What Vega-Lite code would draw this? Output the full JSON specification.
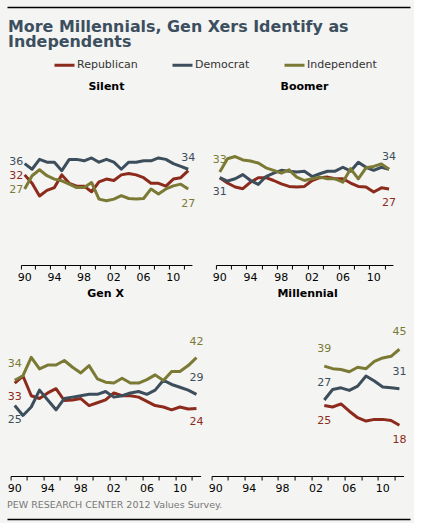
{
  "$schema": "https://vega.github.io/schema/vega-lite/v6.json",
  "background": "#f4f4f2",
  "padding": {"left": 7, "top": 7, "right": 4, "bottom": 4},
  "datasets": {
    "series": [
      {"gen": "Silent", "year": 1990, "Republican": 32, "Democrat": 36, "Independent": 27},
      {"gen": "Silent", "year": 1991, "Republican": 29, "Democrat": 34, "Independent": 31.7},
      {"gen": "Silent", "year": 1992, "Republican": 24.5, "Democrat": 37.5, "Independent": 33.8},
      {"gen": "Silent", "year": 1993, "Republican": 26.5, "Democrat": 36.5, "Independent": 31.7},
      {"gen": "Silent", "year": 1994, "Republican": 27.5, "Democrat": 36.5, "Independent": 30.5},
      {"gen": "Silent", "year": 1995, "Republican": 32, "Democrat": 33.5, "Independent": 29.9},
      {"gen": "Silent", "year": 1996, "Republican": 29, "Democrat": 37.5, "Independent": 28.7},
      {"gen": "Silent", "year": 1997, "Republican": 28, "Democrat": 37.5, "Independent": 27.5},
      {"gen": "Silent", "year": 1998, "Republican": 28, "Democrat": 37, "Independent": 27.5},
      {"gen": "Silent", "year": 1999, "Republican": 26, "Democrat": 38, "Independent": 29.3},
      {"gen": "Silent", "year": 2000, "Republican": 29.5, "Democrat": 36.5, "Independent": 23.4},
      {"gen": "Silent", "year": 2001, "Republican": 30.5, "Democrat": 37.5, "Independent": 22.8},
      {"gen": "Silent", "year": 2002, "Republican": 30, "Democrat": 36.5, "Independent": 23.4},
      {"gen": "Silent", "year": 2003, "Republican": 32, "Democrat": 34, "Independent": 24.6},
      {"gen": "Silent", "year": 2004, "Republican": 32.5, "Democrat": 36.5, "Independent": 23.6},
      {"gen": "Silent", "year": 2005, "Republican": 32, "Democrat": 36.5, "Independent": 23.4},
      {"gen": "Silent", "year": 2006, "Republican": 31, "Democrat": 37, "Independent": 23.6},
      {"gen": "Silent", "year": 2007, "Republican": 29, "Democrat": 37, "Independent": 27},
      {"gen": "Silent", "year": 2008, "Republican": 29, "Democrat": 38, "Independent": 25.2},
      {"gen": "Silent", "year": 2009, "Republican": 28, "Democrat": 37.5, "Independent": 27},
      {"gen": "Silent", "year": 2010, "Republican": 30.5, "Democrat": 36, "Independent": 28.1},
      {"gen": "Silent", "year": 2011, "Republican": 31, "Democrat": 35, "Independent": 28.7},
      {"gen": "Silent", "year": 2012, "Republican": 33.5, "Democrat": 34, "Independent": 27},
      {"gen": "Boomer", "year": 1990, "Republican": 31, "Democrat": 31, "Independent": 33},
      {"gen": "Boomer", "year": 1991, "Republican": 29.1, "Democrat": 29.8, "Independent": 37.7},
      {"gen": "Boomer", "year": 1992, "Republican": 27.7, "Democrat": 30.6, "Independent": 38.5},
      {"gen": "Boomer", "year": 1993, "Republican": 27.1, "Democrat": 32.1, "Independent": 37.3},
      {"gen": "Boomer", "year": 1994, "Republican": 29.4, "Democrat": 30, "Independent": 36.9},
      {"gen": "Boomer", "year": 1995, "Republican": 31, "Democrat": 28.6, "Independent": 36.2},
      {"gen": "Boomer", "year": 1996, "Republican": 31, "Democrat": 31.4, "Independent": 34.5},
      {"gen": "Boomer", "year": 1997, "Republican": 30, "Democrat": 32.6, "Independent": 33.6},
      {"gen": "Boomer", "year": 1998, "Republican": 28.8, "Democrat": 33.6, "Independent": 32.6},
      {"gen": "Boomer", "year": 1999, "Republican": 27.9, "Democrat": 33.3, "Independent": 33.8},
      {"gen": "Boomer", "year": 2000, "Republican": 27.7, "Democrat": 33, "Independent": 31.2},
      {"gen": "Boomer", "year": 2001, "Republican": 27.9, "Democrat": 33.3, "Independent": 30},
      {"gen": "Boomer", "year": 2002, "Republican": 30, "Democrat": 31.4, "Independent": 30.6},
      {"gen": "Boomer", "year": 2003, "Republican": 31, "Democrat": 32.4, "Independent": 31.2},
      {"gen": "Boomer", "year": 2004, "Republican": 31.2, "Democrat": 33.3, "Independent": 30.6},
      {"gen": "Boomer", "year": 2005, "Republican": 30.6, "Democrat": 33.3, "Independent": 30.6},
      {"gen": "Boomer", "year": 2006, "Republican": 30.6, "Democrat": 34.7, "Independent": 29.4},
      {"gen": "Boomer", "year": 2007, "Republican": 29.1, "Democrat": 33.3, "Independent": 34.2},
      {"gen": "Boomer", "year": 2008, "Republican": 27.9, "Democrat": 36.5, "Independent": 30.6},
      {"gen": "Boomer", "year": 2009, "Republican": 27.7, "Democrat": 34.7, "Independent": 34.5},
      {"gen": "Boomer", "year": 2010, "Republican": 25.9, "Democrat": 33.6, "Independent": 35},
      {"gen": "Boomer", "year": 2011, "Republican": 27.4, "Democrat": 34.7, "Independent": 35.9},
      {"gen": "Boomer", "year": 2012, "Republican": 27, "Democrat": 34, "Independent": 34},
      {"gen": "Gen X", "year": 1990, "Republican": 33, "Democrat": 25, "Independent": 34},
      {"gen": "Gen X", "year": 1991, "Republican": 35.5, "Democrat": 21.5, "Independent": 35.6},
      {"gen": "Gen X", "year": 1992, "Republican": 28.5, "Democrat": 24.5, "Independent": 42.1},
      {"gen": "Gen X", "year": 1993, "Republican": 27.5, "Democrat": 30.5, "Independent": 38},
      {"gen": "Gen X", "year": 1994, "Republican": 29.5, "Democrat": 27, "Independent": 39.4},
      {"gen": "Gen X", "year": 1995, "Republican": 31, "Democrat": 23.5, "Independent": 39.4},
      {"gen": "Gen X", "year": 1996, "Republican": 26.8, "Democrat": 27.5, "Independent": 41},
      {"gen": "Gen X", "year": 1997, "Republican": 27, "Democrat": 28, "Independent": 38.6},
      {"gen": "Gen X", "year": 1998, "Republican": 27.5, "Democrat": 28.5, "Independent": 36.6},
      {"gen": "Gen X", "year": 1999, "Republican": 25, "Democrat": 29, "Independent": 39.2},
      {"gen": "Gen X", "year": 2000, "Republican": 26, "Democrat": 29, "Independent": 34.5},
      {"gen": "Gen X", "year": 2001, "Republican": 27, "Democrat": 30, "Independent": 33.3},
      {"gen": "Gen X", "year": 2002, "Republican": 29.5, "Democrat": 28, "Independent": 33},
      {"gen": "Gen X", "year": 2003, "Republican": 28.5, "Democrat": 28.5, "Independent": 34.7},
      {"gen": "Gen X", "year": 2004, "Republican": 28.5, "Democrat": 29.5, "Independent": 33},
      {"gen": "Gen X", "year": 2005, "Republican": 28, "Democrat": 30, "Independent": 33},
      {"gen": "Gen X", "year": 2006, "Republican": 26.5, "Democrat": 29, "Independent": 34.2},
      {"gen": "Gen X", "year": 2007, "Republican": 25, "Democrat": 30.5, "Independent": 35.9},
      {"gen": "Gen X", "year": 2008, "Republican": 24.5, "Democrat": 34, "Independent": 33.9},
      {"gen": "Gen X", "year": 2009, "Republican": 23.5, "Democrat": 32.5, "Independent": 37.1},
      {"gen": "Gen X", "year": 2010, "Republican": 24.5, "Democrat": 31.5, "Independent": 37.1},
      {"gen": "Gen X", "year": 2011, "Republican": 23.8, "Democrat": 30.5, "Independent": 39.2},
      {"gen": "Gen X", "year": 2012, "Republican": 24, "Democrat": 29, "Independent": 42},
      {"gen": "Millennial", "year": 2003, "Republican": 25, "Democrat": 27, "Independent": 39},
      {"gen": "Millennial", "year": 2004, "Republican": 24.5, "Democrat": 30.7, "Independent": 38.1},
      {"gen": "Millennial", "year": 2005, "Republican": 25.6, "Democrat": 31.3, "Independent": 37.8},
      {"gen": "Millennial", "year": 2006, "Republican": 23, "Democrat": 30.4, "Independent": 37},
      {"gen": "Millennial", "year": 2007, "Republican": 20.7, "Democrat": 31.9, "Independent": 38.6},
      {"gen": "Millennial", "year": 2008, "Republican": 19.5, "Democrat": 35.5, "Independent": 38.1},
      {"gen": "Millennial", "year": 2009, "Republican": 20.1, "Democrat": 33.7, "Independent": 40.7},
      {"gen": "Millennial", "year": 2010, "Republican": 20.1, "Democrat": 31.6, "Independent": 41.9},
      {"gen": "Millennial", "year": 2011, "Republican": 19.7, "Democrat": 31.3, "Independent": 42.5},
      {"gen": "Millennial", "year": 2012, "Republican": 18, "Democrat": 31, "Independent": 45}
    ],
    "labels": [
      {"gen": "Silent", "party": "Democrat", "year": 1990, "pct": 36},
      {"gen": "Silent", "party": "Republican", "year": 1990, "pct": 32},
      {"gen": "Silent", "party": "Independent", "year": 1990, "pct": 27},
      {"gen": "Silent", "party": "Democrat", "year": 2012, "pct": 34},
      {"gen": "Silent", "party": "Independent", "year": 2012, "pct": 27},
      {"gen": "Boomer", "party": "Independent", "year": 1990, "pct": 33},
      {"gen": "Boomer", "party": "Democrat", "year": 1990, "pct": 31},
      {"gen": "Boomer", "party": "Democrat", "year": 2012, "pct": 34},
      {"gen": "Boomer", "party": "Republican", "year": 2012, "pct": 27},
      {"gen": "Gen X", "party": "Independent", "year": 1990, "pct": 34},
      {"gen": "Gen X", "party": "Republican", "year": 1990, "pct": 33},
      {"gen": "Gen X", "party": "Democrat", "year": 1990, "pct": 25},
      {"gen": "Gen X", "party": "Independent", "year": 2012, "pct": 42},
      {"gen": "Gen X", "party": "Democrat", "year": 2012, "pct": 29},
      {"gen": "Gen X", "party": "Republican", "year": 2012, "pct": 24},
      {"gen": "Millennial", "party": "Independent", "year": 2003, "pct": 39},
      {"gen": "Millennial", "party": "Democrat", "year": 2003, "pct": 27},
      {"gen": "Millennial", "party": "Republican", "year": 2003, "pct": 25},
      {"gen": "Millennial", "party": "Independent", "year": 2012, "pct": 45},
      {"gen": "Millennial", "party": "Democrat", "year": 2012, "pct": 31},
      {"gen": "Millennial", "party": "Republican", "year": 2012, "pct": 18}
    ]
  },
  "vconcat": [
    {
      "data": {"values": []},
      "mark": "point",
      "width": 403,
      "height": 6,
      "encoding": {
        "x": {"field": "r", "type": "quantitative", "scale": {"domain": [0, 1]},
          "axis": {"orient": "top", "ticks": false, "labels": false, "domainWidth": 1.3, "domainColor": "#000"}}
      }
    },
    {
      "data": {"values": []},
      "mark": "line",
      "width": 403,
      "height": 20.5,
      "encoding": {
        "color": {"field": "party", "type": "nominal",
          "scale": {"domain": ["Republican", "Democrat", "Independent"], "range": ["#8c2b1c", "#3c4e5c", "#7b7a34"]},
          "legend": {"orient": "none", "legendX": 46, "legendY": 0.5, "direction": "horizontal", "title": null,
            "symbolType": "stroke", "symbolSize": 400, "symbolStrokeWidth": 3, "labelOffset": 1, "columnPadding": 28}}
      },
      "title": {
        "text": ["More Millennials, Gen Xers Identify as", "Independents"],
        "orient": "top",
        "anchor": "start",
        "frame": "group",
        "offset": 3,
        "dx": 1,
        "font": "DejaVu Sans",
        "fontSize": 15.9,
        "fontWeight": "bold",
        "lineHeight": 15,
        "color": "#3c4f5f"
      }
    },
    {
      "hconcat": [
        {
          "width": 171,
          "height": 169,
          "title": {"text": "Silent", "offset": 4.5},
          "encoding": {
            "x": {"field": "year", "type": "ordinal", "bandPosition": 0.5,
              "scale": {"type": "band", "domain": [1990, 1991, 1992, 1993, 1994, 1995, 1996, 1997, 1998, 1999, 2000, 2001, 2002, 2003, 2004, 2005, 2006, 2007, 2008, 2009, 2010, 2011, 2012], "paddingInner": 0, "paddingOuter": 0},
              "axis": {"values": [1990, 1992, 1994, 1996, 1998, 2000, 2002, 2004, 2006, 2008, 2010, 2012], "bandPosition": 0, "labelExpr": "datum.value % 4 == 2 ? slice(toString(datum.value), 2) : ''"}},
            "y": {"field": "pct", "type": "quantitative", "scale": {"domain": [0, 60], "nice": false}, "axis": null},
            "color": {"field": "party", "type": "nominal",
              "scale": {"domain": ["Republican", "Democrat", "Independent"], "range": ["#8c2b1c", "#3c4e5c", "#7b7a34"]},
              "legend": null}
          },
          "layer": [
            {"data": {"name": "series"}, "transform": [{"filter": "datum.gen == 'Silent'"}, {"fold": ["Republican", "Democrat", "Independent"], "as": ["party", "pct"]}],
              "mark": {"type": "line", "strokeWidth": 3, "strokeJoin": "round"}},
            {"data": {"name": "labels"}, "transform": [{"filter": "datum.gen == 'Silent' && datum.year == 1990 && datum.party == 'Democrat'"}],
              "mark": {"type": "text", "align": "right", "dx": -1.5, "dy": -1.5}, "encoding": {"text": {"field": "pct"}}},
            {"data": {"name": "labels"}, "transform": [{"filter": "datum.gen == 'Silent' && datum.year == 1990 && datum.party != 'Democrat'"}],
              "mark": {"type": "text", "align": "right", "dx": -1.5, "dy": 1}, "encoding": {"text": {"field": "pct"}}},
            {"data": {"name": "labels"}, "transform": [{"filter": "datum.gen == 'Silent' && datum.year == 2012 && datum.party == 'Democrat'"}],
              "mark": {"type": "text", "dy": -11}, "encoding": {"text": {"field": "pct"}}},
            {"data": {"name": "labels"}, "transform": [{"filter": "datum.gen == 'Silent' && datum.year == 2012 && datum.party == 'Independent'"}],
              "mark": {"type": "text", "dy": 15}, "encoding": {"text": {"field": "pct"}}}
          ]
        },
        {
          "width": 177,
          "height": 169,
          "title": {"text": "Boomer", "offset": 4.5},
          "encoding": {
            "x": {"field": "year", "type": "ordinal", "bandPosition": 0.5,
              "scale": {"type": "band", "domain": [1990, 1991, 1992, 1993, 1994, 1995, 1996, 1997, 1998, 1999, 2000, 2001, 2002, 2003, 2004, 2005, 2006, 2007, 2008, 2009, 2010, 2011, 2012], "paddingInner": 0, "paddingOuter": 0},
              "axis": {"values": [1990, 1992, 1994, 1996, 1998, 2000, 2002, 2004, 2006, 2008, 2010, 2012], "bandPosition": 0, "labelExpr": "datum.value % 4 == 2 ? slice(toString(datum.value), 2) : ''"}},
            "y": {"field": "pct", "type": "quantitative", "scale": {"domain": [0, 60], "nice": false}, "axis": null},
            "color": {"field": "party", "type": "nominal",
              "scale": {"domain": ["Republican", "Democrat", "Independent"], "range": ["#8c2b1c", "#3c4e5c", "#7b7a34"]},
              "legend": null}
          },
          "layer": [
            {"data": {"name": "series"}, "transform": [{"filter": "datum.gen == 'Boomer'"}, {"fold": ["Republican", "Democrat", "Independent"], "as": ["party", "pct"]}],
              "mark": {"type": "line", "strokeWidth": 3, "strokeJoin": "round"}},
            {"data": {"name": "labels"}, "transform": [{"filter": "datum.gen == 'Boomer' && (datum.party == 'Independent' || datum.year == 2012 && datum.party == 'Democrat')"}],
              "mark": {"type": "text", "dy": -12}, "encoding": {"text": {"field": "pct"}}},
            {"data": {"name": "labels"}, "transform": [{"filter": "datum.gen == 'Boomer' && (datum.party == 'Republican' || datum.year == 1990 && datum.party == 'Democrat')"}],
              "mark": {"type": "text", "dy": 14}, "encoding": {"text": {"field": "pct"}}}
          ]
        }
      ],
      "spacing": 24,
      "bounds": "flush",
      "resolve": {"scale": {"x": "independent", "y": "independent"}}
    },
    {
      "hconcat": [
        {
          "width": 190,
          "height": 169,
          "title": {"text": "Gen X", "offset": 8},
          "encoding": {
            "x": {"field": "year", "type": "ordinal", "bandPosition": 0.5,
              "scale": {"type": "band", "domain": [1990, 1991, 1992, 1993, 1994, 1995, 1996, 1997, 1998, 1999, 2000, 2001, 2002, 2003, 2004, 2005, 2006, 2007, 2008, 2009, 2010, 2011, 2012], "paddingInner": 0, "paddingOuter": 0},
              "axis": {"values": [1990, 1992, 1994, 1996, 1998, 2000, 2002, 2004, 2006, 2008, 2010, 2012], "bandPosition": 0, "labelExpr": "datum.value % 4 == 2 ? slice(toString(datum.value), 2) : ''"}},
            "y": {"field": "pct", "type": "quantitative", "scale": {"domain": [0, 60], "nice": false}, "axis": null},
            "color": {"field": "party", "type": "nominal",
              "scale": {"domain": ["Republican", "Democrat", "Independent"], "range": ["#8c2b1c", "#3c4e5c", "#7b7a34"]},
              "legend": null}
          },
          "layer": [
            {"data": {"name": "series"}, "transform": [{"filter": "datum.gen == 'Gen X'"}, {"fold": ["Republican", "Democrat", "Independent"], "as": ["party", "pct"]}],
              "mark": {"type": "line", "strokeWidth": 3, "strokeJoin": "round"}},
            {"data": {"name": "labels"}, "transform": [{"filter": "datum.gen == 'Gen X' && (datum.party == 'Independent' || datum.year == 2012 && datum.party == 'Democrat')"}],
              "mark": {"type": "text", "dy": -16}, "encoding": {"text": {"field": "pct"}}},
            {"data": {"name": "labels"}, "transform": [{"filter": "datum.gen == 'Gen X' && (datum.party == 'Republican' || datum.year == 1990 && datum.party == 'Democrat')"}],
              "mark": {"type": "text", "dy": 14}, "encoding": {"text": {"field": "pct"}}}
          ]
        },
        {
          "width": 192,
          "height": 169,
          "title": {"text": "Millennial", "offset": 8},
          "encoding": {
            "x": {"field": "year", "type": "ordinal", "bandPosition": 0.5,
              "scale": {"type": "band", "domain": [1990, 1991, 1992, 1993, 1994, 1995, 1996, 1997, 1998, 1999, 2000, 2001, 2002, 2003, 2004, 2005, 2006, 2007, 2008, 2009, 2010, 2011, 2012], "paddingInner": 0, "paddingOuter": 0},
              "axis": {"values": [1990, 1992, 1994, 1996, 1998, 2000, 2002, 2004, 2006, 2008, 2010, 2012], "bandPosition": 0, "labelExpr": "datum.value % 4 == 2 ? slice(toString(datum.value), 2) : ''"}},
            "y": {"field": "pct", "type": "quantitative", "scale": {"domain": [0, 60], "nice": false}, "axis": null},
            "color": {"field": "party", "type": "nominal",
              "scale": {"domain": ["Republican", "Democrat", "Independent"], "range": ["#8c2b1c", "#3c4e5c", "#7b7a34"]},
              "legend": null}
          },
          "layer": [
            {"data": {"name": "series"}, "transform": [{"filter": "datum.gen == 'Millennial'"}, {"fold": ["Republican", "Democrat", "Independent"], "as": ["party", "pct"]}],
              "mark": {"type": "line", "strokeWidth": 3, "strokeJoin": "round"}},
            {"data": {"name": "labels"}, "transform": [{"filter": "datum.gen == 'Millennial' && datum.party != 'Republican'"}],
              "mark": {"type": "text", "dy": -17}, "encoding": {"text": {"field": "pct"}}},
            {"data": {"name": "labels"}, "transform": [{"filter": "datum.gen == 'Millennial' && datum.party == 'Republican'"}],
              "mark": {"type": "text", "dy": 15}, "encoding": {"text": {"field": "pct"}}}
          ]
        }
      ],
      "spacing": 11,
      "bounds": "flush",
      "resolve": {"scale": {"x": "independent", "y": "independent"}}
    },
    {
      "data": {"values": []},
      "mark": "point",
      "width": 403,
      "height": 1,
      "encoding": {
        "x": {"field": "r", "type": "quantitative", "scale": {"domain": [0, 1]},
          "axis": {"orient": "bottom", "ticks": false, "labels": false, "domainWidth": 1.3, "domainColor": "#000"}}
      },
      "title": {
        "text": "PEW RESEARCH  CENTER 2012 Values Survey.",
        "orient": "top",
        "anchor": "start",
        "frame": "group",
        "offset": 9,
        "font": "DejaVu Sans",
        "fontSize": 9.5,
        "fontWeight": "normal",
        "color": "#777777"
      }
    }
  ],
  "spacing": 6,
  "center": true,
  "resolve": {
    "scale": {"x": "independent", "y": "independent", "color": "independent"},
    "legend": {"color": "independent"}
  },
  "config": {
    "view": {"stroke": null},
    "font": "DejaVu Sans",
    "title": {"font": "DejaVu Sans", "fontSize": 11, "fontWeight": "bold", "color": "#000", "anchor": "middle", "frame": "group"},
    "axis": {
      "title": null,
      "grid": false,
      "domainColor": "#000",
      "domainWidth": 1,
      "tickColor": "#000",
      "tickSize": 4,
      "labelFont": "DejaVu Sans",
      "labelFontSize": 11,
      "labelColor": "#000",
      "labelPadding": 2,
      "labelAngle": 0,
      "labelAlign": "center",
      "labelBaseline": "top",
      "labelOverlap": false,
      "labelFlush": false,
      "labelBound": false
    },
    "text": {"font": "DejaVu Sans", "fontSize": 11},
    "legend": {
      "labelFont": "DejaVu Sans",
      "labelFontSize": 11,
      "labelColor": "#333333"
    }
  }
}
